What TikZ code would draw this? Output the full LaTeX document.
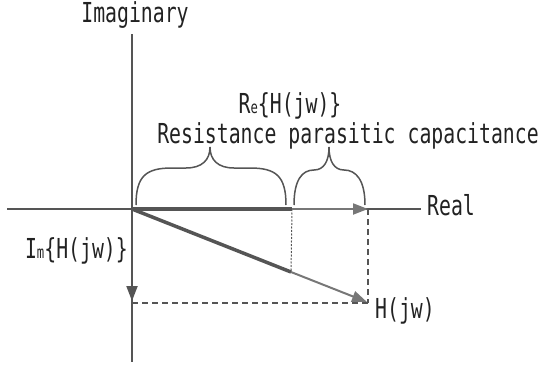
\documentclass[tikz,border=0pt]{standalone}
\usepackage{fontspec}
\newfontfamily\gfont[FakeStretch=0.72]{DejaVu Sans Mono}
\usetikzlibrary{arrows.meta}
\definecolor{axisgray}{HTML}{555555}
\definecolor{lightgraytwo}{HTML}{777777}
\definecolor{txt}{HTML}{222222}
\begin{document}
\begin{tikzpicture}[x=1pt,y=-1pt,
 lbl/.style={font=\gfont\fontsize{27.5}{27.5}\selectfont, text=txt, inner sep=0pt},
 axisline/.style={draw=axisgray, line width=2pt},
 thickline/.style={draw=axisgray, line width=3.5pt},
 grayarrow/.style={draw=lightgraytwo, line width=2pt, -{Triangle[length=15pt,width=11pt]}, fill=lightgraytwo},
 downtip/.style={draw=axisgray, line width=2pt, -{Triangle[length=15pt,width=11pt]}},
 dashline/.style={draw=axisgray, line width=1.5pt, dash pattern=on 6pt off 4pt},
 dotline/.style={draw=axisgray, line width=1pt, dash pattern=on 2pt off 1.5pt},
 bracepath/.style={draw=axisgray, line width=1.5pt},
]
\useasboundingbox (0,0) rectangle (546,367);

% coordinates
\coordinate (O) at (132,209);
\coordinate (Vtop) at (132,34);
\coordinate (Vbot) at (132,362);
\coordinate (Hl) at (7,209);
\coordinate (Hr) at (421,209);
\coordinate (Rmid) at (292,209);
\coordinate (Rtip) at (368,209);
\coordinate (P) at (291,272);
\coordinate (Htip) at (367,302);
\coordinate (Vtipstart) at (132,280);
\coordinate (Vtip) at (132,301);
\coordinate (Dcorner) at (368,303);
\coordinate (Dleft) at (132,303);

% axes
\draw[axisline] (Vtop) -- (Vbot);
\draw[axisline] (Hl) -- (Hr);
\draw[downtip] (Vtipstart) -- (Vtip);

% dashed projections
\draw[dashline] (Rtip) -- (Dcorner);
\draw[dashline] (Dleft) -- (Dcorner);
\draw[dotline] (Rmid) -- (P);

% vectors
\draw[grayarrow] (Rmid) -- (Rtip);
\draw[grayarrow] (P) -- (Htip);
\draw[thickline] (O) -- (Rmid);
\draw[thickline] (O) -- (P);

% braces
\coordinate (B1l) at (136,205);
\coordinate (B1t) at (210,147);
\coordinate (B1r) at (286,205);
\draw[bracepath] (B1l) .. controls (136,176) and (146,168) .. (172,168)
  -- (186,168) .. controls (202,168) and (210,160) .. (B1t)
  .. controls (210,160) and (218,168) .. (234,168)
  -- (250,168) .. controls (276,168) and (286,176) .. (B1r);
\coordinate (B2l) at (294,205);
\coordinate (B2t) at (329,147);
\coordinate (B2r) at (365,205);
\draw[bracepath] (B2l) .. controls (294,180) and (302,170) .. (314,170)
  .. controls (324,170) and (329,161) .. (B2t)
  .. controls (329,161) and (334,170) .. (344,170)
  .. controls (356,170) and (365,180) .. (B2r);

% labels
\node[lbl, anchor=base] (imag) at (135,22) {Imaginary};
\node[lbl, anchor=base west] (real) at (427,215) {Real};
\node[lbl, anchor=base] (re) at (290,113) {R{\fontsize{17}{17}\selectfont e}\{H(jw)\}};
\node[lbl, anchor=base] (rpc) at (348,143) {Resistance parasitic capacitance};
\node[lbl, anchor=base east] (im) at (128,258) {I{\fontsize{17}{17}\selectfont m}\{H(jw)\}};
\node[lbl, anchor=base west] (hjw) at (375,318) {H(jw)};
\end{tikzpicture}
\end{document}
